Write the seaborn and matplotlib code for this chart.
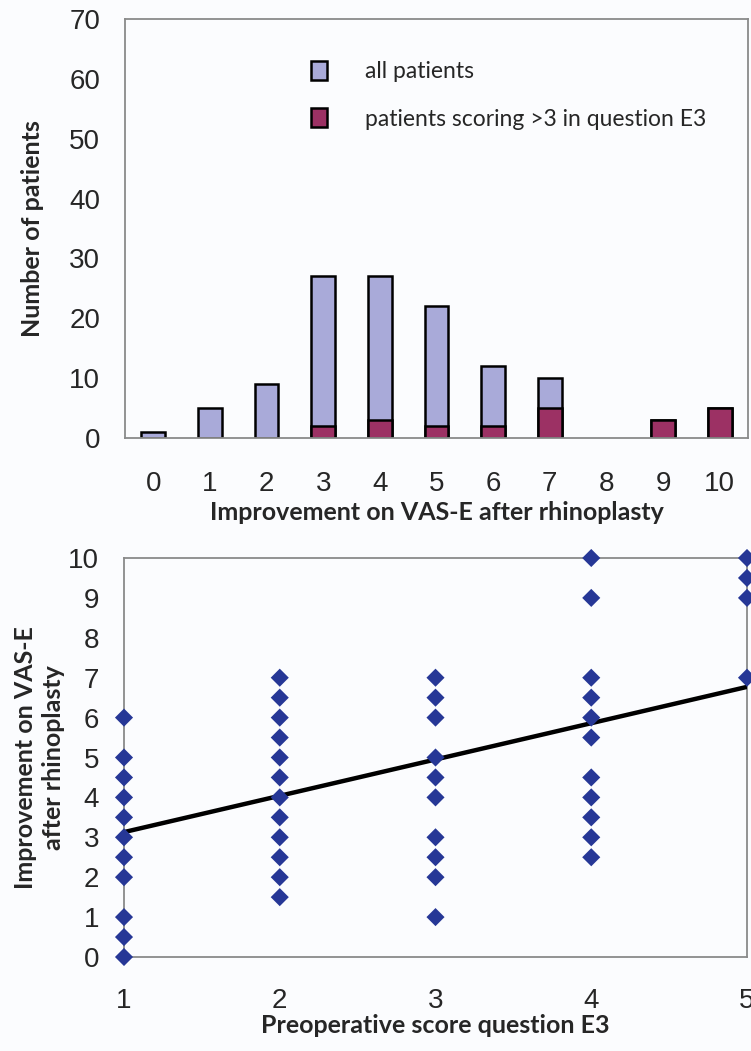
import numpy as np
import pandas as pd
import matplotlib
matplotlib.use("Agg")
import matplotlib.pyplot as plt
from matplotlib.patches import Patch
import seaborn as sns

# ---- data ----
improvement = [0, 1, 2, 3, 4, 5, 6, 7, 8, 9, 10]
all_patients = [1, 5, 9, 27, 27, 22, 12, 10, 0, 3, 5]
patients_e3_gt3 = [0, 0, 0, 2, 3, 2, 2, 5, 0, 3, 5]

pre_score_1 = [0, 0.5, 1, 2, 2.5, 3, 3.5, 4, 4.5, 5, 6]
pre_score_2 = [1.5, 2, 2.5, 3, 3.5, 4, 4.5, 5, 5.5, 6, 6.5, 7]
pre_score_3 = [1, 2, 2.5, 3, 4, 4.5, 5, 6, 6.5, 7]
pre_score_4 = [2.5, 3, 3.5, 4, 4.5, 5.5, 6, 6.5, 7, 9, 10]
pre_score_5 = [7, 9, 9.5, 10]

trend_x = [1, 5]
trend_y = [3.13, 6.77]

legend_labels = ["all patients", "patients scoring >3 in question E3"]

# ---- style ----
sns.set_style("white")
plt.rcParams["font.family"] = ["Liberation Sans", "DejaVu Sans"]
BG = "#FBFCFE"
LAV = "#A9AAD9"
MAG = "#9C3164"
NAVY = "#263796"
SPINE = "#8A8A8A"
LABEL_FONT = ["Lato", "DejaVu Sans"]
TICK_FS = 20
LABEL_FS = 18

W, H = 751, 1051
fig = plt.figure(figsize=(W / 100, H / 100), dpi=100, facecolor=BG)

def px_axes(l, t, r, b):
    return fig.add_axes([l / W, 1 - b / H, (r - l) / W, (b - t) / H])

# ---------- top chart ----------
ax1 = px_axes(125, 19, 748, 438)
ax1.set_facecolor(BG)
df_bar = pd.DataFrame({"imp": [str(v) for v in improvement],
                       "all": all_patients, "e3": patients_e3_gt3})
order = [str(v) for v in improvement]
sns.barplot(data=df_bar, x="imp", y="all", order=order, color=LAV,
            edgecolor="black", linewidth=1.8, width=0.42, saturation=1, ax=ax1)
sns.barplot(data=df_bar, x="imp", y="e3", order=order, color=MAG,
            edgecolor="black", linewidth=1.8, width=0.42, saturation=1, ax=ax1)
for p in list(ax1.patches):
    if p.get_height() == 0:
        p.remove()
ax1.set_xlim(-0.5, len(improvement) - 0.5)
ax1.set_ylim(0, 70)
ax1.set_yticks(range(0, 71, 10))
ax1.set_xticks(range(len(improvement)))
ax1.set_xticklabels(order)
ax1.set_xticks(np.arange(-0.5, len(improvement), 1.0), minor=True)
ax1.tick_params(axis="x", which="major", length=0, pad=24, labelsize=TICK_FS)
ax1.tick_params(axis="x", which="minor", length=6, width=1.2, color=SPINE, direction="out")
ax1.tick_params(axis="y", length=6, width=1.2, color=SPINE, direction="out", pad=12, labelsize=TICK_FS)
for s in ax1.spines.values():
    s.set_visible(True)
    s.set_color(SPINE)
    s.set_linewidth(1.3)
ax1.set_xlabel("Improvement on VAS-E after rhinoplasty", fontsize=LABEL_FS,
               fontweight="bold", family=LABEL_FONT, labelpad=3)
ax1.set_ylabel("Number of patients", fontsize=LABEL_FS, fontweight="bold",
               family=LABEL_FONT, labelpad=18)
handles = [Patch(facecolor=LAV, edgecolor="black", linewidth=1.8),
           Patch(facecolor=MAG, edgecolor="black", linewidth=1.8)]
leg = ax1.legend(handles, legend_labels, loc="upper left",
                 bbox_to_anchor=(0.299, 0.90), frameon=False,
                 handlelength=0.68, handleheight=0.91, handletextpad=1.66,
                 labelspacing=1.13, borderpad=0, borderaxespad=0,
                 prop={"family": LABEL_FONT, "size": 16.5})

# ---------- bottom chart ----------
ax2 = px_axes(124, 558, 747, 957)
ax2.set_facecolor(BG)
sc_x, sc_y = [], []
for score, vals in zip([1, 2, 3, 4, 5],
                       [pre_score_1, pre_score_2, pre_score_3, pre_score_4, pre_score_5]):
    sc_x += [score] * len(vals)
    sc_y += vals
df_sc = pd.DataFrame({"pre": sc_x, "imp": sc_y})
sns.lineplot(x=trend_x, y=trend_y, color="black", linewidth=3.2, ax=ax2, zorder=3)
sns.scatterplot(data=df_sc, x="pre", y="imp", marker="D", s=85, color=NAVY,
                edgecolor="none", linewidth=0, ax=ax2, zorder=4, clip_on=False)
ax2.set_xlim(1, 5)
ax2.set_ylim(0, 10)
ax2.set_xticks([1, 2, 3, 4, 5])
ax2.set_yticks(range(0, 11))
ax2.tick_params(axis="x", length=6, width=1.2, color=SPINE, direction="out", pad=16, labelsize=TICK_FS)
ax2.tick_params(axis="y", length=6, width=1.2, color=SPINE, direction="out", pad=12, labelsize=TICK_FS)
for s in ax2.spines.values():
    s.set_visible(True)
    s.set_color(SPINE)
    s.set_linewidth(1.3)
ax2.set_xlabel("Preoperative score question E3", fontsize=LABEL_FS, fontweight="bold",
               family=LABEL_FONT, labelpad=0.5)
ax2.set_ylabel("Improvement on VAS-E\nafter rhinoplasty", fontsize=LABEL_FS,
               fontweight="bold", family=LABEL_FONT, labelpad=2, linespacing=1.3)

fig.savefig("out.png", dpi=100, facecolor=BG)
